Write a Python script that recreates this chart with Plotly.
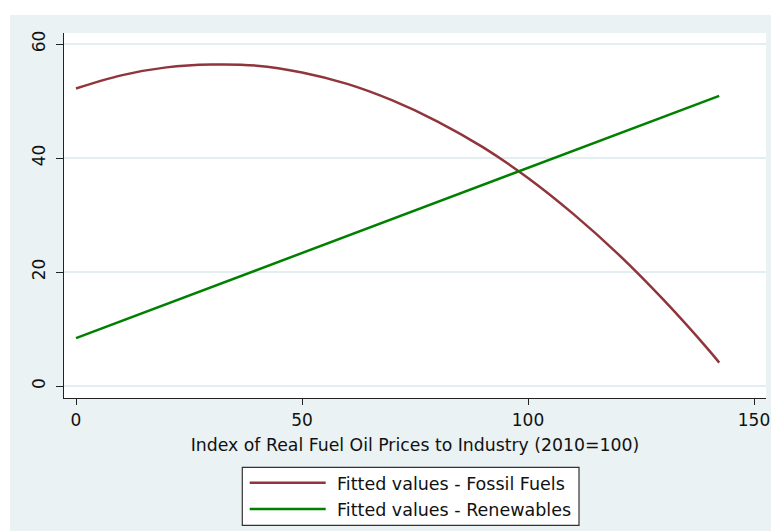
import plotly.graph_objects as go

# ---- data ----
fossil_x = [0, 10, 20, 30, 40, 50, 60, 70, 80, 90, 100, 110, 120, 130, 140, 142.3]
fossil_y = [52.2, 54.5, 55.9, 56.4, 56.2, 55.0, 53.0, 50.1, 46.4, 41.9, 36.5, 30.2, 23.1, 15.1, 6.3, 4.1]

renew_x = [0, 50, 100, 142.3]
renew_y = [8.4, 23.3, 38.3, 50.9]

series_names = ["Fitted values - Fossil Fuels", "Fitted values - Renewables"]
x_ticks = [0, 50, 100, 150]
y_ticks = [0, 20, 40, 60]
x_title = "Index of Real Fuel Oil Prices to Industry (2010=100)"

# ---- styles ----
FOSSIL_COLOR = "#90353B"
RENEW_COLOR = "#008000"
BG = "#EAF2F3"
GRID = "#E3EEF0"
FONT = "DejaVu Sans"
W, H = 771, 531
ML, MR, MT, MB = 64, 5, 33, 133

fig = go.Figure()
fig.add_trace(go.Scatter(x=fossil_x, y=fossil_y, mode="lines", name=series_names[0],
                         line=dict(color=FOSSIL_COLOR, width=2.5, shape="spline"),
                         showlegend=False))
fig.add_trace(go.Scatter(x=renew_x, y=renew_y, mode="lines", name=series_names[1],
                         line=dict(color=RENEW_COLOR, width=2.5),
                         showlegend=False))

pw = W - ML - MR
ph = H - MT - MB


def px(xpix):
    return (xpix - ML) / pw


def py(ypix):
    return (H - MB - ypix) / ph


shapes = [
    # white outer strips (top, left)
    dict(type="rect", xref="paper", yref="paper", x0=px(0), x1=px(W), y0=py(15), y1=py(0),
         fillcolor="white", line=dict(width=0), layer="below"),
    dict(type="rect", xref="paper", yref="paper", x0=px(0), x1=px(10), y0=py(H), y1=py(0),
         fillcolor="white", line=dict(width=0), layer="below"),
    # legend box
    dict(type="rect", xref="paper", yref="paper", x0=px(242.3), x1=px(579), y0=py(525.3), y1=py(467.3),
         fillcolor="white", line=dict(color="#333333", width=1.2)),
    dict(type="line", xref="paper", yref="paper", x0=px(249.7), x1=px(325.7), y0=py(482.7), y1=py(482.7),
         line=dict(color=FOSSIL_COLOR, width=2.5)),
    dict(type="line", xref="paper", yref="paper", x0=px(249.7), x1=px(325.7), y0=py(509), y1=py(509),
         line=dict(color=RENEW_COLOR, width=2.5)),
]

annotations = [
    dict(text=series_names[0], xref="paper", yref="paper", x=px(335), y=py(483.5),
         xanchor="left", yanchor="middle", showarrow=False,
         font=dict(family=FONT, size=17.5, color="#111111")),
    dict(text=series_names[1], xref="paper", yref="paper", x=px(335), y=py(510),
         xanchor="left", yanchor="middle", showarrow=False,
         font=dict(family=FONT, size=17.5, color="#111111")),
]

fig.update_layout(
    width=W, height=H,
    margin=dict(l=ML, r=MR, t=MT, b=MB, autoexpand=False),
    paper_bgcolor=BG, plot_bgcolor="white",
    font=dict(family=FONT, size=17, color="#111111"),
    shapes=shapes, annotations=annotations,
    showlegend=False,
)
fig.update_xaxes(
    range=[-2.655, 152.65], tickvals=x_ticks, ticktext=[str(v) for v in x_ticks],
    showgrid=False, zeroline=False, automargin=False,
    showline=True, linecolor="#222222", linewidth=1.3,
    ticks="outside", ticklen=6, tickcolor="#222222", tickwidth=1.3,
    tickfont=dict(family=FONT, size=17),
    title=dict(text=x_title, font=dict(family=FONT, size=17.3), standoff=10),
)
fig.update_yaxes(
    range=[-2.105, 61.93], tickvals=y_ticks, ticktext=[str(v) for v in y_ticks],
    showgrid=True, gridcolor=GRID, gridwidth=1.5, zeroline=False, automargin=False,
    showline=True, linecolor="#222222", linewidth=1.3,
    ticks="outside", ticklen=7, tickcolor="#222222", tickwidth=1.3,
    tickangle=-90, tickfont=dict(family=FONT, size=17),
    ticklabelstandoff=4,
)

fig.write_html(
    "out.html",
    config={"displayModeBar": False},
    post_script="document.body.style.margin='0';document.body.style.overflow='hidden';",
)
